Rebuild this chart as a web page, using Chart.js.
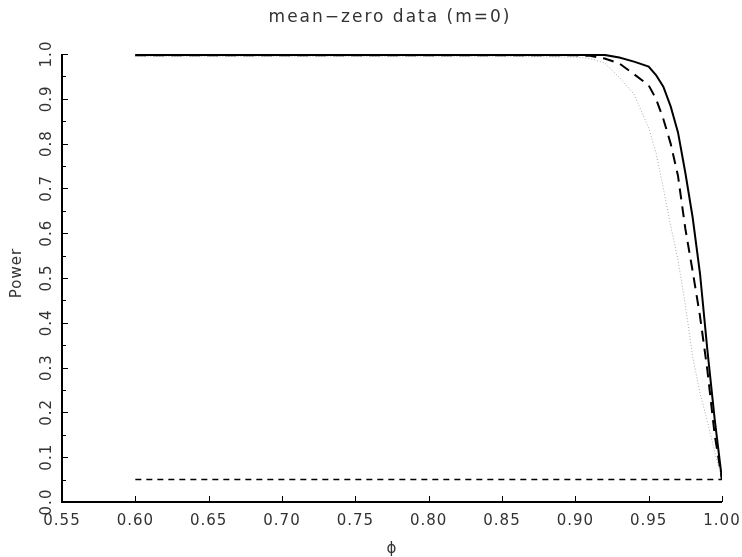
<!DOCTYPE html>
<html>
<head>
<meta charset="utf-8">
<script src="https://cdn.jsdelivr.net/npm/chart.js@4.4.0/dist/chart.umd.min.js"></script>
<style>
  html, body { margin: 0; padding: 0; background: #fff; }
  #wrap { width: 742px; height: 557px; position: relative; }
</style>
</head>
<body>
<div id="wrap"><canvas id="powerChart"></canvas></div>
<script>
// Valores de phi (eje x)
const phiValues = [0.60, 0.65, 0.70, 0.75, 0.80, 0.85, 0.90, 0.91, 0.92, 0.93, 0.94, 0.95,
                   0.955, 0.96, 0.965, 0.97, 0.975, 0.98, 0.985, 0.99, 0.995, 1.00];

// Potencia de cada prueba
const solidPower  = [0.998, 0.998, 0.998, 0.998, 0.998, 0.998, 0.998, 0.998, 0.998, 0.992, 0.983, 0.972,
                     0.953, 0.927, 0.883, 0.825, 0.735, 0.635, 0.510, 0.340, 0.185, 0.050];
const dashedPower = [0.997, 0.997, 0.997, 0.997, 0.997, 0.997, 0.997, 0.996, 0.990, 0.979, 0.955, 0.930,
                     0.900, 0.855, 0.800, 0.728, 0.610, 0.515, 0.415, 0.295, 0.150, 0.050];
const dottedPower = [0.995, 0.995, 0.995, 0.995, 0.995, 0.995, 0.993, 0.990, 0.980, 0.948, 0.910, 0.835,
                     0.780, 0.700, 0.617, 0.540, 0.440, 0.325, 0.243, 0.180, 0.112, 0.050];

// Nivel nominal
const levelPhi = [0.60, 1.00];
const levelPower = [0.05, 0.05];

// Etiquetas de los ejes
const xTickLabels = ['0.55', '0.60', '0.65', '0.70', '0.75', '0.80', '0.85', '0.90', '0.95', '1.00'];
const yTickLabels = ['0.0', '0.1', '0.2', '0.3', '0.4', '0.5', '0.6', '0.7', '0.8', '0.9', '1.0'];
const yMinorTicks = [0.05, 0.15, 0.25, 0.35, 0.45, 0.55, 0.65, 0.75, 0.85, 0.95];

function toPoints(xs, ys) {
    return xs.map((x, i) => ({ x: x, y: ys[i] }));
}

// Plugin para dibujar ejes al estilo del original (marcas hacia dentro, etiquetas giradas)
const axesPlugin = {
    id: 'axesPlugin',
    afterDraw(chart) {
        const ctx = chart.ctx;
        const xs = chart.scales.x;
        const ys = chart.scales.y;
        const area = chart.chartArea;
        ctx.save();

        // lineas de ejes
        ctx.strokeStyle = '#000';
        ctx.lineWidth = 2;
        ctx.beginPath();
        ctx.moveTo(area.left, area.top);
        ctx.lineTo(area.left, area.bottom);
        ctx.lineTo(area.right, area.bottom);
        ctx.stroke();

        // marcas del eje x
        ctx.lineWidth = 1;
        ctx.beginPath();
        xTickLabels.forEach(lbl => {
            const px = Math.round(xs.getPixelForValue(parseFloat(lbl))) + 0.5;
            if (parseFloat(lbl) > 0.551) {
                ctx.moveTo(px, area.bottom);
                ctx.lineTo(px, area.bottom - 6);
            }
        });
        // marcas del eje y
        yTickLabels.forEach(lbl => {
            const py = Math.round(ys.getPixelForValue(parseFloat(lbl))) + 0.5;
            ctx.moveTo(area.left, py);
            ctx.lineTo(area.left + 6, py);
        });
        yMinorTicks.forEach(v => {
            const py = Math.round(ys.getPixelForValue(v)) + 0.5;
            ctx.moveTo(area.left, py);
            ctx.lineTo(area.left + 4, py);
        });
        ctx.stroke();

        // textos
        ctx.fillStyle = '#333';
        ctx.font = '15px "DejaVu Sans"';
        ctx.letterSpacing = '1px';
        ctx.textAlign = 'center';
        ctx.textBaseline = 'middle';
        xTickLabels.forEach(lbl => {
            ctx.fillText(lbl, xs.getPixelForValue(parseFloat(lbl)), area.bottom + 19);
        });
        yTickLabels.forEach(lbl => {
            const py = ys.getPixelForValue(parseFloat(lbl));
            ctx.save();
            ctx.translate(area.left - 15, py);
            ctx.rotate(-Math.PI / 2);
            ctx.fillText(lbl, 0, 0);
            ctx.restore();
        });

        // titulo
        ctx.font = '17px "DejaVu Sans"';
        ctx.letterSpacing = '2px';
        ctx.fillText('mean\u2212zero data (m=0)', 390, 18);

        // titulos de ejes
        ctx.font = '15px "DejaVu Sans"';
        ctx.letterSpacing = '1px';
        ctx.fillText('\u03d5', (area.left + area.right) / 2, 549);
        ctx.save();
        ctx.translate(17, 273);
        ctx.rotate(-Math.PI / 2);
        ctx.fillText('Power', 0, 0);
        ctx.restore();

        ctx.restore();
    }
};

const ctx = document.getElementById('powerChart').getContext('2d');
window.powerChartInstance = new Chart(ctx, {
    type: 'line',
    data: {
        datasets: [
            {
                label: 'solid',
                data: toPoints(phiValues, solidPower),
                borderColor: '#000',
                borderWidth: 2,
                pointRadius: 0,
                tension: 0
            },
            {
                label: 'dashed',
                data: toPoints(phiValues, dashedPower),
                borderColor: '#000',
                borderWidth: 2,
                borderDash: [11, 7],
                pointRadius: 0,
                tension: 0
            },
            {
                label: 'dotted',
                data: toPoints(phiValues, dottedPower),
                borderColor: '#aaa',
                borderWidth: 1,
                borderDash: [1, 2],
                pointRadius: 0,
                tension: 0
            },
            {
                label: 'level',
                data: toPoints(levelPhi, levelPower),
                borderColor: '#000',
                borderWidth: 1.5,
                borderDash: [6, 5],
                pointRadius: 0,
                tension: 0
            }
        ]
    },
    options: {
        responsive: true,
        maintainAspectRatio: false,
        animation: false,
        layout: {
            padding: { left: 62, right: 20, top: 54, bottom: 55 }
        },
        plugins: {
            legend: { display: false },
            tooltip: { enabled: false },
            title: { display: false }
        },
        scales: {
            x: { type: 'linear', min: 0.55, max: 1.00, display: false },
            y: { type: 'linear', min: 0, max: 1.0, display: false }
        }
    },
    plugins: [axesPlugin]
});
</script>
</body>
</html>
